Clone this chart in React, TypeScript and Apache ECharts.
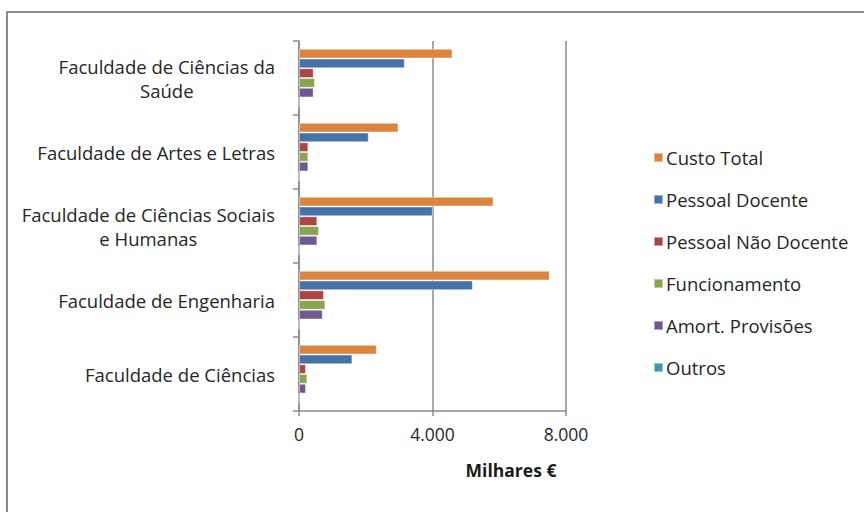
import React, { useEffect, useRef } from "react";
import * as echarts from "echarts";

const categories = [
  "Faculdade de Ciências",
  "Faculdade de Engenharia",
  "Faculdade de Ciências Sociais\ne Humanas",
  "Faculdade de Artes e Letras",
  "Faculdade de Ciências da\nSaúde",
];
const seriesNames = [
  "Custo Total",
  "Pessoal Docente",
  "Pessoal Não Docente",
  "Funcionamento",
  "Amort. Provisões",
  "Outros",
];
const custoTotal = [2330, 7510, 5830, 2980, 4600];
const pessoalDocente = [1600, 5210, 4010, 2090, 3170];
const pessoalNaoDocente = [210, 750, 550, 280, 440];
const funcionamento = [250, 790, 600, 280, 480];
const amortProvisoes = [210, 710, 550, 280, 440];
const outros = [0, 0, 0, 0, 0];
const seriesValues = [custoTotal, pessoalDocente, pessoalNaoDocente, funcionamento, amortProvisoes, outros];
const colors = ["#DB843D", "#4572A7", "#AA4643", "#89A54E", "#71588F", "#4198AF"];

const FONT = "Open Sans";
const FS = 18.5;

function measure(text: string, bold = false): number {
  const c = document.createElement("canvas").getContext("2d");
  if (!c) return text.length * 8;
  c.font = `${bold ? "bold " : ""}${FS}px "${FONT}"`;
  return c.measureText(text).width;
}

export default function App() {
  const ref = useRef<HTMLDivElement>(null);
  useEffect(() => {
    if (!ref.current) return;
    const chart = echarts.init(ref.current, undefined, { renderer: "svg" });
    const rich: Record<string, any> = {};
    categories.forEach((c, i) => {
      const lines = c.split("\n");
      const w = Math.max(...lines.map((l) => measure(l))) + 2;
      rich["c" + i] = { width: w, align: "center", fontFamily: FONT, fontSize: FS, color: "#262626", lineHeight: 24 };
    });
    chart.setOption({
      animation: false,
      backgroundColor: "#fff",
      textStyle: { fontFamily: FONT },
      grid: { left: 299, right: 298, top: 41, bottom: 101, containLabel: false },
      legend: {
        orient: "vertical",
        left: 648,
        top: 143,
        itemWidth: 9,
        itemHeight: 9,
        itemGap: 23,
        icon: "rect",
        data: seriesNames,
        textStyle: { fontFamily: FONT, fontSize: FS, color: "#262626", lineHeight: 18, padding: [0, 0, 0, -2] },
      },
      xAxis: {
        type: "value",
        min: 0,
        max: 8000,
        interval: 4000,
        axisLine: { show: true, lineStyle: { color: "#8c8c8c", width: 1.5 } },
        axisTick: { show: true, length: 5, lineStyle: { color: "#8c8c8c", width: 1.5 } },
        splitLine: { show: true, lineStyle: { color: "#8c8c8c", width: 1.5 } },
        axisLabel: {
          margin: 14,
          fontFamily: FONT,
          fontSize: 17.5,
          color: "#262626",
          formatter: (v: number) => (v === 0 ? "0" : String(v / 1000) + ".000"),
        },
      },
      yAxis: {
        type: "category",
        data: categories,
        axisLine: { show: true, lineStyle: { color: "#8c8c8c", width: 1.5 } },
        axisTick: { show: true, length: 6, lineStyle: { color: "#8c8c8c", width: 1.5 } },
        axisLabel: {
          margin: 23,
          align: "right",
          formatter: (v: string, i: number) => `{c${i}|${v}}`,
          rich,
        },
      },
      graphic: [
        {
          type: "rect",
          shape: { x: 7, y: 12, width: 900, height: 600 },
          style: { fill: "none", stroke: "#8a8a8a", lineWidth: 2 },
          silent: true,
        },
        {
          type: "text",
          x: 511,
          y: 470,
          style: {
            text: "Milhares €",
            font: `bold 17.5px "${FONT}"`,
            fill: "#1a1a1a",
            textAlign: "center",
            textVerticalAlign: "middle",
          },
        },
      ],
      series: seriesNames.map((name, i) => ({
        name,
        type: "bar",
        data: seriesValues[i],
        barGap: "0%",
        barCategoryGap: "21%",
        itemStyle: { color: colors[i], borderColor: "rgba(255,255,255,0.45)", borderWidth: 1 },
      })),
    });
    return () => chart.dispose();
  }, []);
  return <div ref={ref} style={{ position: "fixed", left: 0, top: 0, width: 864, height: 512 }} />;
}
